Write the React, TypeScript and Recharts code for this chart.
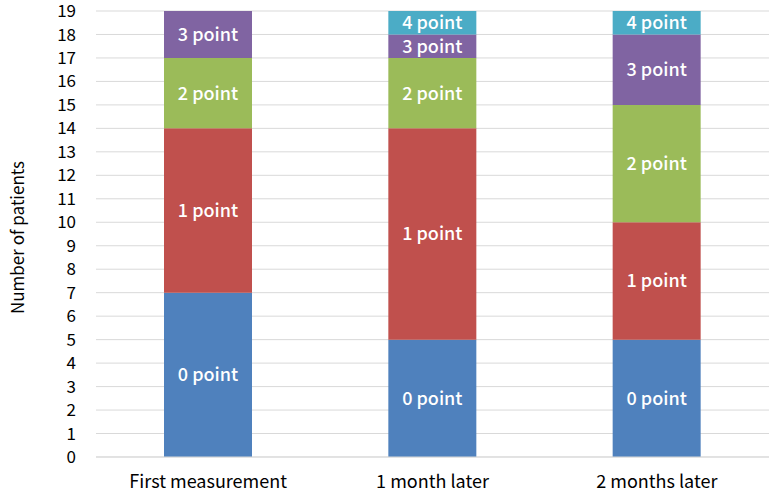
import { Bar, BarChart, CartesianGrid, LabelList, XAxis, YAxis } from "recharts";

const categories = ["First measurement", "1 month later", "2 months later"];
const point0 = [7, 5, 5];
const point1 = [7, 9, 5];
const point2 = [3, 3, 5];
const point3 = [2, 1, 3];
const point4 = [0, 1, 1];
const yTicks = [0, 1, 2, 3, 4, 5, 6, 7, 8, 9, 10, 11, 12, 13, 14, 15, 16, 17, 18, 19];

const series = [
  { key: "p0", name: "0 point", values: point0, color: "#4f81bd" },
  { key: "p1", name: "1 point", values: point1, color: "#c0504d" },
  { key: "p2", name: "2 point", values: point2, color: "#9bbb59" },
  { key: "p3", name: "3 point", values: point3, color: "#8064a2" },
  { key: "p4", name: "4 point", values: point4, color: "#4bacc6" },
];

const data = categories.map((c, i) => {
  const row: Record<string, string | number> = { name: c };
  series.forEach((s) => (row[s.key] = s.values[i]));
  return row;
});

const FONT = "'Noto Sans CJK JP', 'Noto Sans', sans-serif";

export default function App() {
  return (
    <div style={{ position: "absolute", left: 0, top: 0, fontFamily: FONT }}>
      <BarChart
        width={769}
        height={494}
        data={data}
        margin={{ top: 11, right: 0, left: 0, bottom: 0 }}
        barCategoryGap={0}
      >
        <CartesianGrid vertical={false} stroke="#d9d9d9" />
        <XAxis
          dataKey="name"
          height={37}
          tickLine={false}
          axisLine={{ stroke: "#d9d9d9" }}
          tick={{ fill: "#000", fontSize: 18, fontFamily: FONT }}
          tickMargin={12}
        />
        <YAxis
          width={96}
          domain={[0, 19]}
          ticks={yTicks}
          interval={0}
          tickLine={false}
          axisLine={false}
          tick={{ fill: "#000", fontSize: 17, fontFamily: FONT }}
          tickMargin={14}
          label={{
            value: "Number of patients",
            angle: -90,
            position: "insideLeft",
            dx: 13,
            dy: 80,
            style: { fill: "#000", fontSize: 17, fontFamily: FONT },
          }}
        />
        {series.map((s) => (
          <Bar key={s.key} dataKey={s.key} stackId="a" fill={s.color} barSize={88} isAnimationActive={false}>
            <LabelList
              dataKey={s.key}
              position="center"
              formatter={(v: number) => (v > 0 ? s.name : "")}
              style={{ fill: "#fff", fontSize: 18, fontWeight: 500, fontFamily: FONT }}
            />
          </Bar>
        ))}
      </BarChart>
    </div>
  );
}
